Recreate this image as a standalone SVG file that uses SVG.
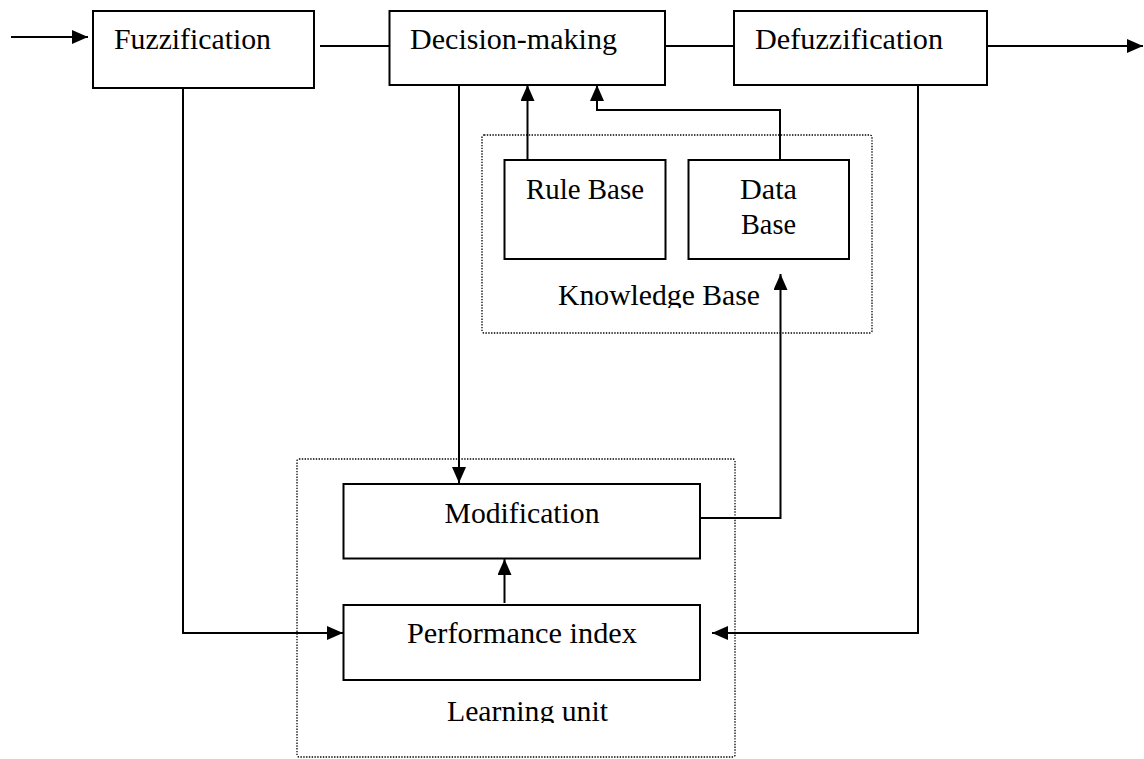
<svg xmlns="http://www.w3.org/2000/svg" width="1144" height="759" viewBox="0 0 1144 759">
<style>
.box{fill:#fff;stroke:#000;stroke-width:2}
.dot{fill:none;stroke:#000;stroke-width:1.3;stroke-dasharray:1.4 1.4}
.lbl{font-family:"Liberation Serif","Times New Roman",serif;font-size:29px;fill:#000}
.mid{text-anchor:middle}
.con{fill:none;stroke:#000;stroke-width:2}
</style>
<defs>
<marker id="arr" markerUnits="userSpaceOnUse" markerWidth="17" markerHeight="15" refX="16" refY="7" orient="auto">
<path d="M0,0 L16,7 L0,14 z" fill="#000"/>
</marker>
<clipPath id="clipKB"><rect x="480" y="130" width="400" height="178"/></clipPath>
<clipPath id="clipLU"><rect x="295" y="455" width="445" height="268"/></clipPath>
</defs>
<g id="knowledge-base">
<rect class="dot" x="482" y="135" width="390" height="198" rx="2"/>
<text class="lbl" x="558" y="305" textLength="202" lengthAdjust="spacingAndGlyphs" clip-path="url(#clipKB)">Knowledge Base</text>
</g>
<g id="learning-unit">
<rect class="dot" x="297" y="459" width="438" height="298" rx="2"/>
<text class="lbl" x="447" y="721" textLength="161" lengthAdjust="spacingAndGlyphs" clip-path="url(#clipLU)">Learning unit</text>
</g>
<g id="connectors">
<line class="con" x1="11" y1="37" x2="88" y2="37" marker-end="url(#arr)"/>
<line class="con" x1="320" y1="46" x2="389" y2="46"/>
<line class="con" x1="666" y1="46" x2="734" y2="46"/>
<line class="con" x1="988" y1="46" x2="1143" y2="46" marker-end="url(#arr)"/>
<polyline class="con" points="183,88 183,633 343,633" marker-end="url(#arr)"/>
<polyline class="con" points="918,85 918,633 712,633" marker-end="url(#arr)"/>
<line class="con" x1="459" y1="85" x2="459" y2="483" marker-end="url(#arr)"/>
<line class="con" x1="527.5" y1="160" x2="527.5" y2="85" marker-end="url(#arr)"/>
<polyline class="con" points="780,160 780,110 597,110 597,85" marker-end="url(#arr)"/>
<polyline class="con" points="696,518 780.5,518 780.5,274" marker-end="url(#arr)"/>
<line class="con" x1="504.5" y1="603" x2="504.5" y2="559" marker-end="url(#arr)"/>
</g>
<g id="fuzzification">
<rect class="box" x="93" y="11" width="221" height="77"/>
<text class="lbl" x="114" y="49" textLength="157" lengthAdjust="spacingAndGlyphs">Fuzzification</text>
</g>
<g id="decision-making">
<rect class="box" x="389.5" y="11" width="275.5" height="74"/>
<text class="lbl" x="410" y="49" textLength="207" lengthAdjust="spacingAndGlyphs">Decision-making</text>
</g>
<g id="defuzzification">
<rect class="box" x="734" y="11" width="253" height="74"/>
<text class="lbl" x="755" y="49" textLength="188" lengthAdjust="spacingAndGlyphs">Defuzzification</text>
</g>
<g id="rule-base">
<rect class="box" x="504.5" y="160" width="161" height="99"/>
<text class="lbl" x="526" y="199" textLength="118" lengthAdjust="spacingAndGlyphs">Rule Base</text>
</g>
<g id="data-base">
<rect class="box" x="688.5" y="160" width="160.5" height="99"/>
<text class="lbl mid" x="768.5" y="199" textLength="57" lengthAdjust="spacingAndGlyphs">Data</text>
<text class="lbl mid" x="768.5" y="234" textLength="55" lengthAdjust="spacingAndGlyphs">Base</text>
</g>
<g id="modification">
<rect class="box" x="343.5" y="484" width="356.5" height="74.5"/>
<text class="lbl" x="444.5" y="523" textLength="155" lengthAdjust="spacingAndGlyphs">Modification</text>
</g>
<g id="performance-index">
<rect class="box" x="343.5" y="605" width="356.5" height="75"/>
<text class="lbl" x="407" y="643" textLength="230" lengthAdjust="spacingAndGlyphs">Performance index</text>
</g>
</svg>
